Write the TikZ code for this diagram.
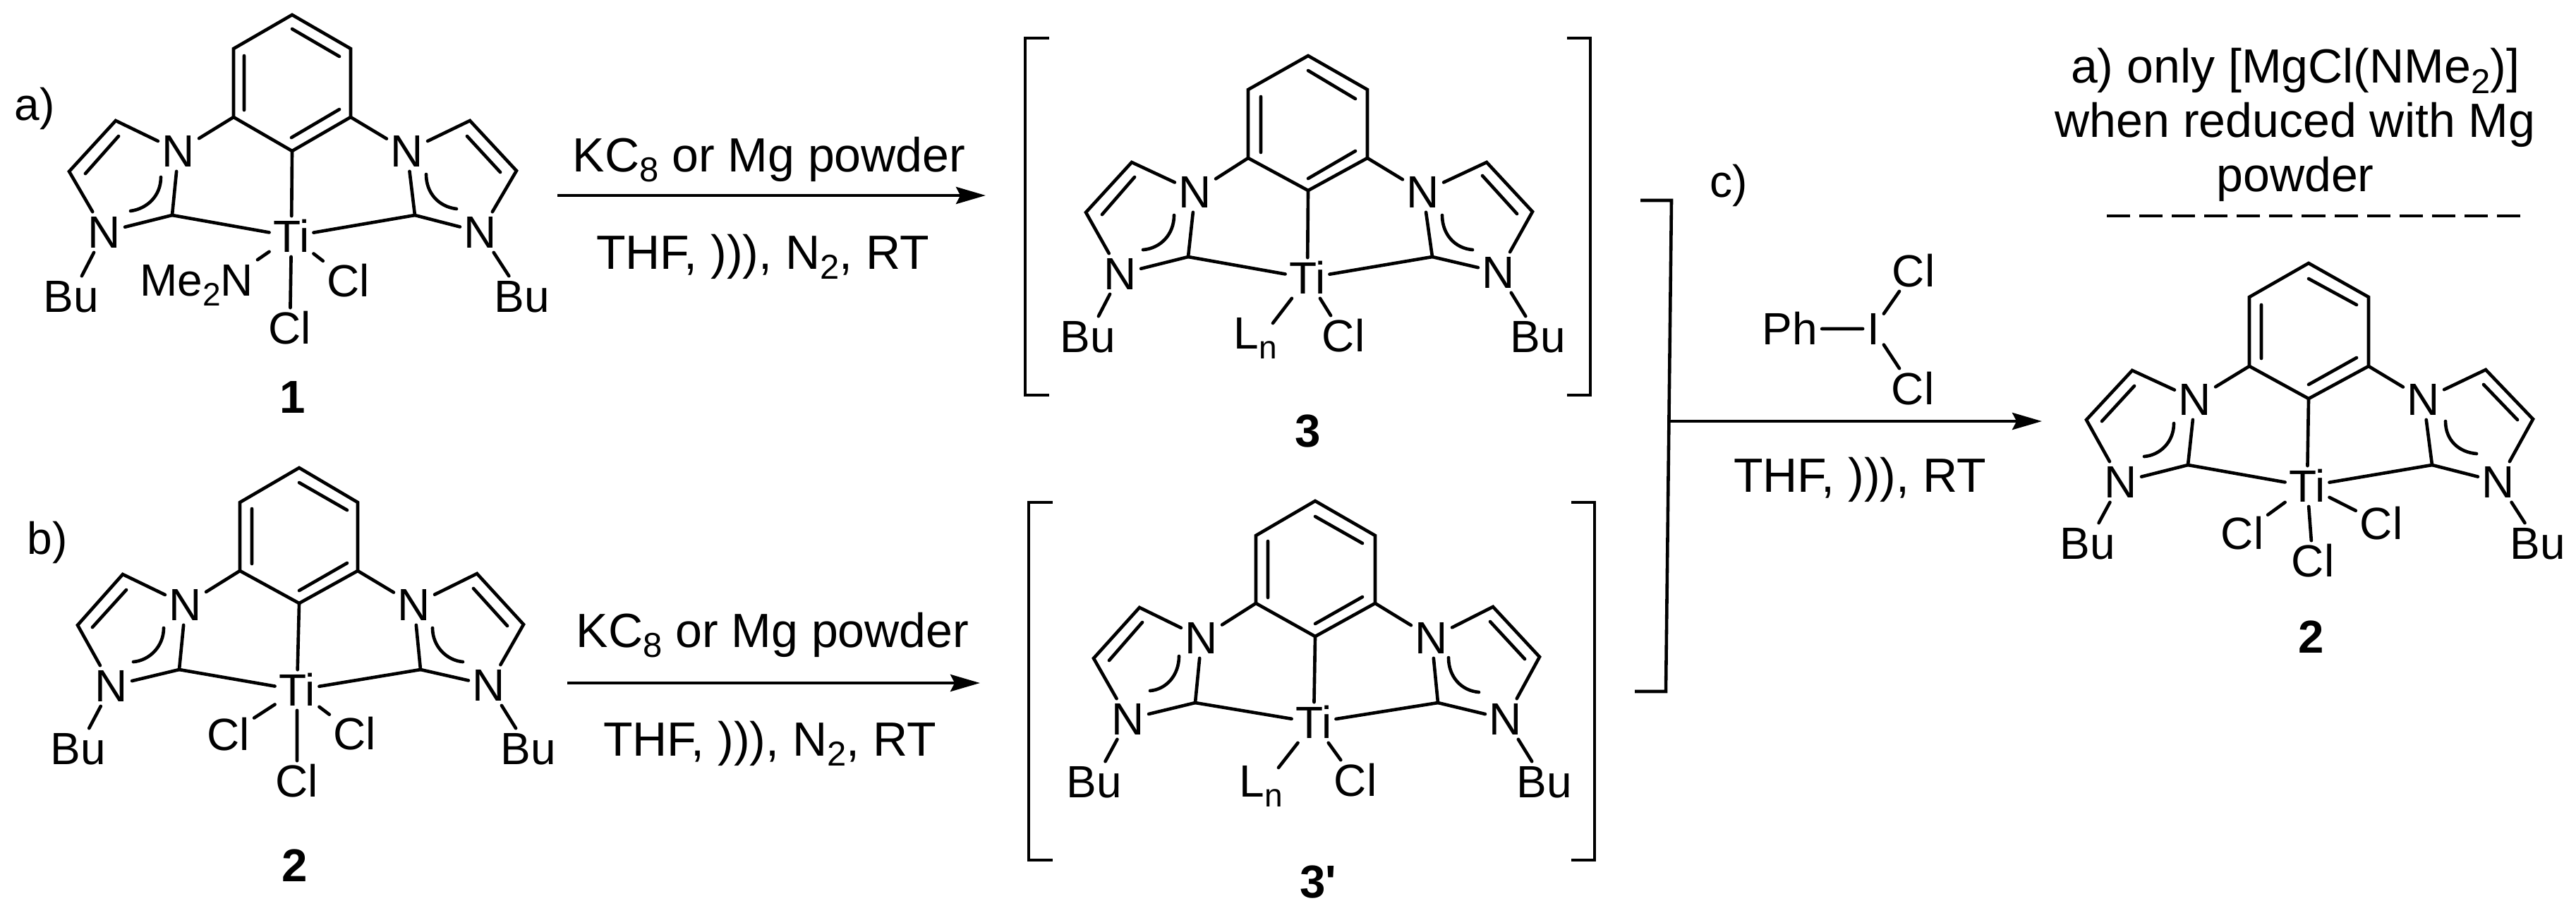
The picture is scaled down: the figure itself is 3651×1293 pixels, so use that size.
\documentclass[tikz,border=0pt]{standalone}
\usepackage{fontspec}
\usepackage{graphicx}
\setmainfont{Liberation Sans}
\usetikzlibrary{arrows.meta}
\newcommand{\dn}[1]{\raisebox{-.22em}{\scalebox{.72}{#1}}}
\tikzset{
  bond/.style={line width=1.32pt,line cap=round,line join=miter},
  brk/.style={line width=1.3pt,line join=miter},
  rxn/.style={line width=1.4pt,-{Stealth[length=11.9pt,width=6.8pt,inset=1.7pt]}},
  atom/.style={font=\fontsize{18.2pt}{20pt}\selectfont,inner sep=1.7pt,outer sep=0pt,text height=13pt,text depth=0pt},
  cond/.style={font=\fontsize{19.35pt}{21pt}\selectfont,inner sep=0pt,anchor=base},
  tag/.style={font=\fontsize{18.2pt}{20pt}\selectfont,inner sep=0pt,anchor=base west},
  cmpd/.style={font=\fontsize{18.6pt}{20pt}\selectfont\bfseries,inner sep=0pt},
}
% common pincer ligand skeleton; #1 is the list of its point positions
\newcommand{\pincer}[1]{%
  \foreach \n/\x/\y in {#1} {\coordinate (\n) at (\x,\y);}
  \node[atom] (Nb) at (pNb) {N};
  \node[atom] (Nc) at (pNc) {N};
  \node[atom] (Na) at (pNa) {N};
  \node[atom] (Nd) at (pNd) {N};
  \node[atom] (Ti) at (pTi) {Ti};
  \node[atom] (BuL) at (pBuL) {Bu};
  \node[atom] (BuR) at (pBuR) {Bu};
  \draw[bond] (top)--(ur)--(lr)--(bot)--(ll)--(ul)--cycle;
  \draw[bond] (i1a)--(i1b) (i2a)--(i2b) (i3a)--(i3b);
  \draw[bond] (ll)--(Nb) (lr)--(Nc) (bot)--(Ti);
  \draw[bond] (Nb)--(a)--(b)--(Na)--(CL)--(Nb) (ia)--(ib);
  \draw[bond] (Nc)--(c)--(d)--(Nd)--(CR)--(Nc) (ic)--(id);
  \draw[bond] (CL)--(Ti) (CR)--(Ti) (Na)--(BuL) (Nd)--(BuR);
  \draw[bond] (aLa) .. controls (aLb) and (aLc) .. (aLd);
  \draw[bond] (aRa) .. controls (aRb) and (aRc) .. (aRd);
}
\begin{document}
\begin{tikzpicture}[x=0.01cm,y=-0.01cm]
\useasboundingbox (0,0) rectangle (3651,1293);

% ---------- compound 1
\begin{scope}[name prefix=mA-]
\pincer{top/414/21,ul/331/69,ur/497/69,ll/331/166,lr/497/166,bot/414/214,
 i1a/414/41,i1b/481/80,i2a/346/79,i2b/346/156,i3a/413/195,i3b/481/155,
 pNb/253/214,pNc/577/214,a/164/171,b/98/243,ia/168/193,ib/121/246,pNa/148/329,CL/244/305,
 aLa/228/251,aLb/228/278,aLc/208/296,aLd/185/299,
 c/666/171,d/732/242,ic/662/193,id/709/244,pNd/681/329,CR/588/305,
 aRa/604/247,aRb/604/274,aRc/622/293,aRd/647/296,
 pTi/413/335,pBuL/101/420,pBuR/740/420}
\node[atom,anchor=east] (Me) at (365,397) {Me\dn{2}N};
\node[atom] (Cl1) at (494,398) {Cl};
\node[atom] (Cl2) at (411,465) {Cl};
\draw[bond] (Ti)--(Me.north east) (Ti)--(Cl1) (Ti)--(Cl2);
\end{scope}
\node[tag] (la) at (20,170) {a)};
\node[cmpd] (n1) at (415,563) {1};

% ---------- compound 2 (left)
\begin{scope}[name prefix=mB-]
\pincer{top/424/663,ul/340/712,ur/507/712,ll/340/809,lr/507/809,bot/424/855,
 i1a/424/684,i1b/492/723,i2a/357/721,i2b/357/799,i3a/424/837,i3b/492/798,
 pNb/263/857,pNc/587/857,a/174/814,b/110/886,ia/179/836,ib/131/889,pNa/158/972,CL/254/949,
 aLa/232/890,aLb/232/916,aLc/212/936,aLd/189/938,
 c/676/813,d/742/885,ic/671/834,id/719/887,pNd/693/971,CR/596/949,
 aRa/613/890,aRb/613/916,aRc/633/936,aRd/656/938,
 pTi/421/978,pBuL/111/1061,pBuR/749/1061}
\node[atom] (Cl1) at (324,1041) {Cl};
\node[atom] (Cl2) at (503,1040) {Cl};
\node[atom] (Cl3) at (421,1107) {Cl};
\draw[bond] (Ti)--(Cl1) (Ti)--(Cl2) (Ti)--(Cl3);
\end{scope}
\node[tag] (lb) at (38,785) {b)};
\node[cmpd] (n2) at (418,1227) {2};

% ---------- intermediate 3
\begin{scope}[name prefix=mC-]
\pincer{top/1854/79,ul/1769/127,ur/1938/127,ll/1769/224,lr/1938/224,bot/1854/270,
 i1a/1854/100,i1b/1921/140,i2a/1787/137,i2b/1787/216,i3a/1854/253,i3b/1921/214,
 pNb/1694/272,pNc/2017/272,a/1604/230,b/1539/301,ia/1608/251,ib/1562/304,pNa/1588/388,CL/1684/364,
 aLa/1664/305,aLb/1664/332,aLc/1645/352,aLd/1620/354,
 c/2107/230,d/2172/300,ic/2101/249,id/2150/303,pNd/2124/386,CR/2030/364,
 aRa/2044/305,aRb/2044/332,aRc/2062/352,aRd/2087/354,
 pTi/1853/394,pBuL/1542/477,pBuR/2180/477}
\node[atom] (Ln) at (1779,472) {L\dn{n}};
\node[atom] (Cl1) at (1904,476) {Cl};
\coordinate (lnend) at (1804,458);
\draw[bond] (Ti)--(lnend) (Ti)--(Cl1);
\end{scope}
\draw[brk] (1487,54)--(1453,54)--(1453,560)--(1487,560);
\draw[brk] (2221,54)--(2254,54)--(2254,560)--(2221,560);
\node[cmpd] (n3) at (1854,611) {3};

% ---------- intermediate 3'
\begin{scope}[name prefix=mD-]
\pincer{top/1864/710,ul/1780/759,ur/1949/759,ll/1780/855,lr/1949/855,bot/1864/902,
 i1a/1864/732,i1b/1931/770,i2a/1797/767,i2b/1797/847,i3a/1864/884,i3b/1931/846,
 pNb/1703/904,pNc/2029/904,a/1615/861,b/1550/933,ia/1619/882,ib/1572/936,pNa/1599/1019,CL/1694/996,
 aLa/1671/930,aLb/1671/957,aLc/1653/977,aLd/1630/979,
 c/2116/860,d/2182/931,ic/2112/881,id/2161/934,pNd/2134/1019,CR/2038/996,
 aRa/2053/932,aRb/2053/959,aRc/2071/979,aRd/2096/981,
 pTi/1862/1024,pBuL/1551/1108,pBuR/2189/1108}
\node[atom] (Ln) at (1787,1107) {L\dn{n}};
\node[atom] (Cl1) at (1921,1106) {Cl};
\coordinate (lnend) at (1812,1088);
\draw[bond] (Ti)--(lnend) (Ti)--(Cl1);
\end{scope}
\draw[brk] (1492,712)--(1458,712)--(1458,1219)--(1492,1219);
\draw[brk] (2227,712)--(2260,712)--(2260,1219)--(2227,1219);
\node[cmpd] (n3p) at (1868,1250) {3\textquotesingle};

% ---------- compound 2 (right)
\begin{scope}[name prefix=mE-]
\pincer{top/3272/373,ul/3188/421,ur/3357/421,ll/3188/519,lr/3357/519,bot/3272/565,
 i1a/3272/395,i1b/3340/432,i2a/3205/432,i2b/3205/508,i3a/3272/545,i3b/3340/507,
 pNb/3111/566,pNc/3435/566,a/3022/525,b/2957/595,ia/3025/547,ib/2979/597,pNa/3006/683,CL/3101/659,
 aLa/3081/600,aLb/3081/626,aLc/3062/645,aLd/3039/647,
 c/3523/524,d/3590/594,ic/3520/545,id/3568/595,pNd/3541/683,CR/3447/659,
 aRa/3466/597,aRb/3466/624,aRc/3485/641,aRd/3510/643,
 pTi/3270/689,pBuL/2959/770,pBuR/3597/770}
\node[atom] (Cl1) at (3178,756) {Cl};
\node[atom] (Cl2) at (3375,742) {Cl};
\node[atom] (Cl3) at (3278,795) {Cl};
\draw[bond] (Ti)--(Cl1) (Ti)--(Cl2) (Ti)--(Cl3);
\end{scope}
\node[cmpd] (n2b) at (3276,903) {2};

% ---------- reaction arrows and conditions
\coordinate (a1s) at (790,277);
\coordinate (a1e) at (1397,277);
\draw[rxn] (a1s)--(a1e);
\node[cond] (t1) at (1090,243) {KC\dn{8} or Mg powder};
\node[cond] (t2) at (1081,381) {THF, ))), N\dn{2}, RT};
\coordinate (a2s) at (804,968);
\coordinate (a2e) at (1389,968);
\draw[rxn] (a2s)--(a2e);
\node[cond] (t3) at (1095,917) {KC\dn{8} or Mg powder};
\node[cond] (t4) at (1091,1071) {THF, ))), N\dn{2}, RT};

% ---------- joining bracket and arrow c)
\coordinate (bk1) at (2325,284);
\coordinate (bk2) at (2369,284);
\coordinate (bk3) at (2361,980);
\coordinate (bk4) at (2317,980);
\draw[brk] (bk1)--(bk2)--(bk3)--(bk4);
\coordinate (a3s) at (2366,597);
\coordinate (a3e) at (2894,597);
\draw[rxn] (a3s)--(a3e);
\node[tag] (lc) at (2423,279) {c)};
\node[atom] (Ph) at (2537,466) {Ph};
\node[atom] (I) at (2655,466) {I};
\node[atom] (ClA) at (2712,384) {Cl};
\node[atom] (ClB) at (2711,551) {Cl};
\draw[bond] (Ph)--(I) (I)--(ClA) (I)--(ClB);
\node[cond] (t5) at (2636,697) {THF, ))), RT};

% ---------- footnote
\node[font=\fontsize{19.35pt}{21.8pt}\selectfont,align=center,inner sep=0pt] (note) at (3253,177)
  {a) only [MgCl(NMe\dn{2})]\\when reduced with Mg\\powder};
\coordinate (ds) at (2986,306);
\coordinate (de) at (3573,306);
\draw[line width=1pt,dash pattern=on 9.4pt off 3.7pt] (ds)--(de);
\end{tikzpicture}
\end{document}
